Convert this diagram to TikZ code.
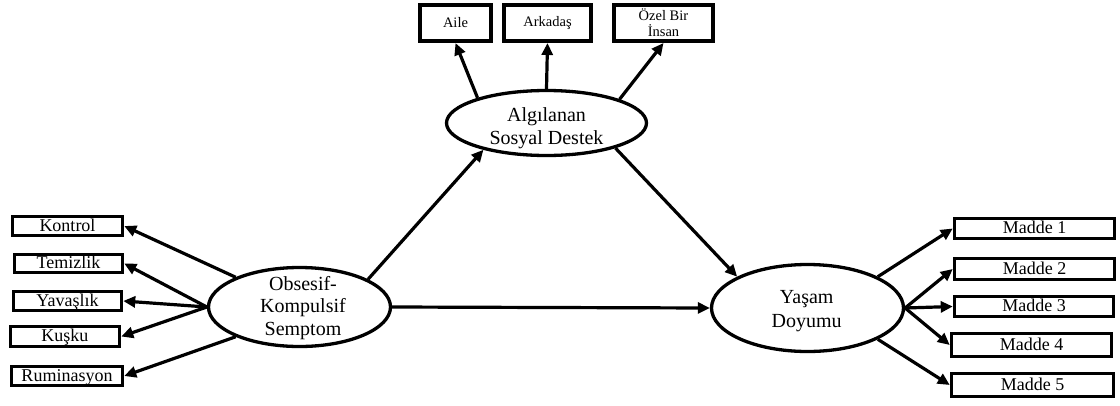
\documentclass[tikz,border=0pt]{standalone}
\usepackage{fontspec}
\setmainfont{Liberation Serif}
\usetikzlibrary{arrows.meta,shapes.geometric}
\begin{document}
\begin{tikzpicture}[x=1pt,y=-1pt,
  topbox/.style={draw, line width=4pt, inner sep=0pt, minimum height=36pt, align=center, font=\fontsize{14.5}{16}\selectfont},
  sidebox/.style={draw, line width=3.5pt, inner sep=0pt, text height=12.5pt, text depth=2pt, font=\fontsize{18}{20}\selectfont},
  latent/.style={draw, ellipse, line width=3.3pt, inner sep=0pt},
  ltext/.style={align=center, inner sep=0pt},
  arr/.style={line width=3.2pt, -{Triangle[length=12pt,width=11pt]}}
]
\useasboundingbox (0,0) rectangle (1120,405);
% top indicator boxes
\node[topbox, minimum width=71pt] (aile) at (455.5,23) {Aile};
\node[topbox, minimum width=87pt] (ark) at (547.5,23) {Arkadaş};
\node[topbox, minimum width=99pt] (ozel) at (663.5,23) {Özel Bir\\İnsan};
% latent variables
\node[latent, minimum width=200pt, minimum height=65pt] (alg) at (546.5,123) {};
\node[ltext, font=\fontsize{20}{23}\selectfont] (algt) at (546.5,128.5) {Algılanan\\Sosyal Destek};
\node[latent, minimum width=182pt, minimum height=79pt] (obs) at (299.5,307) {};
\node[ltext, font=\fontsize{20}{22.5}\selectfont] (obst) at (303,307.75) {Obsesif-\\Kompulsif\\Semptom};
\node[latent, minimum width=192pt, minimum height=87pt] (yas) at (807.5,308) {};
\node[ltext, font=\fontsize{20}{24}\selectfont] (yast) at (806.7,310.9) {Yaşam\\Doyumu};
% left indicator boxes
\node[sidebox, minimum width=110pt, minimum height=19pt] (kontrol) at (67.5,226) {Kontrol};
\node[sidebox, minimum width=108pt, minimum height=18pt] (temiz) at (68.5,263.5) {Temizlik};
\node[sidebox, minimum width=108pt, minimum height=19pt] (yav) at (67.5,301) {Yavaşlık};
\node[sidebox, minimum width=109pt, minimum height=20pt] (kus) at (65,336.5) {Kuşku};
\node[sidebox, minimum width=111pt, minimum height=19pt] (rum) at (67,376) {Ruminasyon};
% right indicator boxes
\node[sidebox, minimum width=160pt, minimum height=20pt] (m1) at (1034.5,228.5) {Madde 1};
\node[sidebox, minimum width=160pt, minimum height=21pt] (m2) at (1034.5,269) {Madde 2};
\node[sidebox, minimum width=159pt, minimum height=20pt] (m3) at (1034,306.5) {Madde 3};
\node[sidebox, minimum width=160pt, minimum height=23pt] (m4) at (1031.5,345) {Madde 4};
\node[sidebox, minimum width=162pt, minimum height=23pt] (m5) at (1032.5,385) {Madde 5};
% connectors
\draw[arr] (alg.160) -- (aile.south);
\draw[arr] (alg.90) -- (ark.south);
\draw[arr] (alg.18) -- (ozel.south);
\draw[arr] (obs.22) -- (alg.203);
\draw[arr] (alg.-20) -- (yas.156);
\draw[arr] (obs.east) -- (yas.west);
\draw[arr] (obs.155) -- (kontrol.east);
\draw[arr] (obs.west) -- (temiz.east);
\draw[arr] (obs.west) -- (yav.east);
\draw[arr] (obs.west) -- (kus.east);
\draw[arr] (obs.205) -- (rum.east);
\draw[arr] (yas.24) -- (m1.west);
\draw[arr] (yas.east) -- (m2.west);
\draw[arr] (yas.east) -- (m3.west);
\draw[arr] (yas.east) -- (m4.west);
\draw[arr] (yas.-24) -- (m5.west);
\end{tikzpicture}
\end{document}
